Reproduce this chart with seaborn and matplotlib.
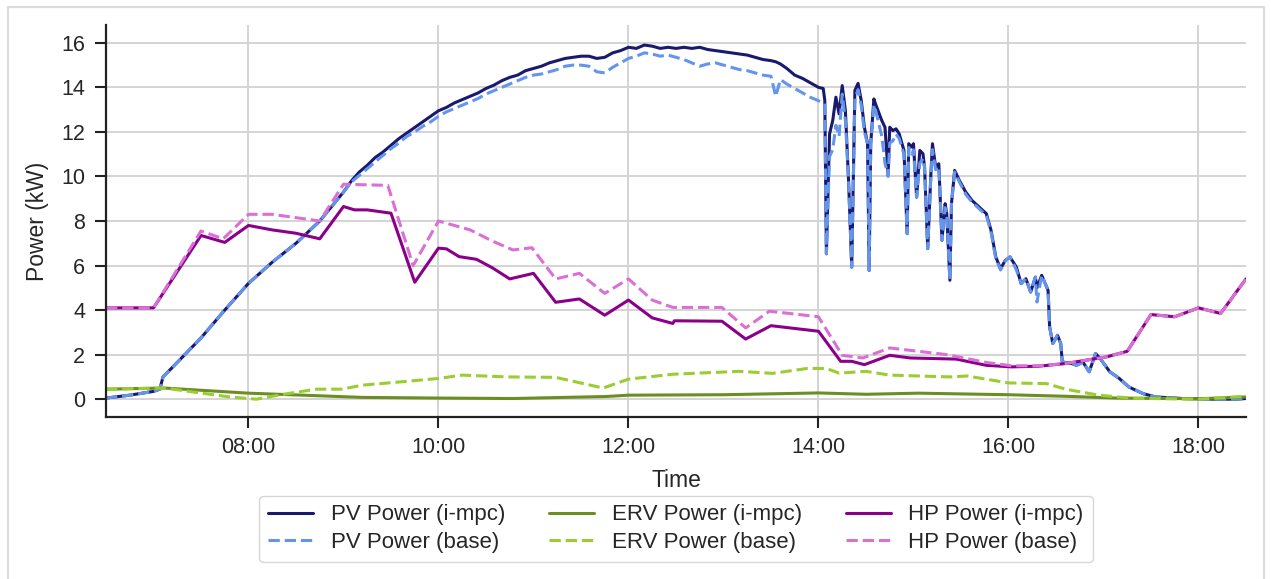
import matplotlib
matplotlib.use("Agg")
import matplotlib.pyplot as plt
import matplotlib.dates as mdates
from matplotlib.patches import Rectangle
import pandas as pd
import seaborn as sns

DAY = "2023-07-01 "

# PV generation (kW)
pv_times = [
    "06:30", "06:45", "07:00", "07:04", "07:06", "07:15", "07:30", "07:45",
    "08:00", "08:15", "08:30", "08:45", "09:00", "09:05", "09:10", "09:15",
    "09:20", "09:25", "09:30", "09:35", "09:40", "09:45", "09:50", "09:55",
    "10:00", "10:05", "10:10", "10:15", "10:20", "10:25", "10:30", "10:35",
    "10:40", "10:45", "10:50", "10:55", "11:00", "11:05", "11:10", "11:15",
    "11:20", "11:25", "11:30", "11:35", "11:40", "11:45", "11:50", "11:55",
    "12:00", "12:05", "12:10", "12:15", "12:20", "12:25", "12:30", "12:35",
    "12:40", "12:45", "12:50", "12:55", "13:00", "13:05", "13:10", "13:15",
    "13:20", "13:25", "13:30", "13:33", "13:36", "13:40", "13:45", "13:50",
    "13:55", "14:00", "14:03", "14:04", "14:05", "14:07", "14:09", "14:11",
    "14:13", "14:15", "14:17", "14:19", "14:21", "14:22", "14:23", "14:25",
    "14:27", "14:29", "14:31", "14:32", "14:33", "14:35", "14:36", "14:40",
    "14:42", "14:44", "14:45", "14:47", "14:49", "14:51", "14:54", "14:56",
    "14:57", "14:59", "15:00", "15:02", "15:04", "15:06", "15:07", "15:09",
    "15:11", "15:12", "15:14", "15:16", "15:18", "15:20", "15:21", "15:23",
    "15:24", "15:26", "15:29", "15:33", "15:37", "15:46", "15:49", "15:52",
    "15:55", "15:58", "16:01", "16:05", "16:08", "16:11", "16:14", "16:17",
    "16:18", "16:21", "16:25", "16:26", "16:28", "16:31", "16:33", "16:34",
    "16:40", "16:43", "16:47", "16:51", "16:55", "16:58", "17:04", "17:10",
    "17:16", "17:25", "17:33", "17:50", "18:10", "18:24", "18:30",
]
pv_impc = [
    0.05, 0.18, 0.35, 0.45, 1.00, 1.65, 2.75, 4.00,
    5.20, 6.15, 7.00, 8.00, 9.30, 9.80, 10.20, 10.50,
    10.85, 11.10, 11.40, 11.70, 11.95, 12.20, 12.45, 12.70,
    12.95, 13.10, 13.30, 13.45, 13.60, 13.75, 13.95, 14.10,
    14.30, 14.45, 14.55, 14.75, 14.85, 14.95, 15.10, 15.20,
    15.30, 15.35, 15.40, 15.40, 15.30, 15.35, 15.55, 15.65,
    15.80, 15.75, 15.90, 15.85, 15.75, 15.80, 15.75, 15.80,
    15.75, 15.80, 15.70, 15.65, 15.60, 15.55, 15.50, 15.45,
    15.35, 15.25, 15.20, 15.15, 15.05, 14.85, 14.55, 14.40,
    14.20, 14.00, 13.95, 13.41, 6.53, 11.91, 12.51, 13.56,
    12.81, 14.08, 12.96, 9.82, 5.93, 9.82, 13.86, 14.18,
    13.41, 12.21, 11.47, 5.78, 11.47, 13.48, 13.26, 12.51,
    12.21, 10.12, 12.21, 12.06, 12.14, 11.91, 11.17, 7.43,
    11.47, 11.32, 11.47, 9.07, 11.17, 11.02, 10.42, 6.76,
    10.12, 11.47, 10.42, 10.57, 7.13, 8.78, 8.33, 5.34,
    8.78, 10.27, 9.82, 9.30, 8.92, 8.33, 7.58, 6.38,
    5.86, 6.23, 6.38, 5.93, 5.19, 5.41, 4.81, 5.48,
    5.00, 5.56, 4.89, 3.24, 2.50, 2.87, 2.50, 1.67,
    1.60, 1.52, 1.67, 1.23, 2.05, 1.82, 1.23, 0.93,
    0.55, 0.25, 0.10, 0.03, 0.00, 0.00, 0.03,
]
pv_base = [
    0.05, 0.18, 0.35, 0.45, 1.00, 1.65, 2.75, 4.00,
    5.20, 6.15, 7.00, 8.00, 9.30, 9.75, 10.05, 10.35,
    10.65, 10.95, 11.25, 11.50, 11.80, 12.00, 12.25, 12.45,
    12.70, 12.90, 13.05, 13.20, 13.35, 13.50, 13.70, 13.85,
    14.00, 14.15, 14.30, 14.45, 14.55, 14.60, 14.70, 14.80,
    14.95, 15.00, 15.00, 14.95, 14.70, 14.65, 14.90, 15.10,
    15.30, 15.40, 15.55, 15.50, 15.40, 15.45, 15.35, 15.25,
    15.10, 14.95, 15.05, 15.10, 15.00, 14.90, 14.80, 14.75,
    14.65, 14.55, 14.50, 13.60, 14.35, 14.15, 13.95, 13.75,
    13.55, 13.40, 13.30, 13.20, 6.53, 10.90, 11.20, 12.30,
    11.80, 13.70, 12.50, 9.82, 5.93, 9.82, 13.50, 13.90,
    13.20, 12.00, 11.47, 5.78, 11.47, 13.20, 13.00, 11.80,
    10.60, 10.00, 11.50, 11.60, 11.90, 11.70, 11.00, 7.43,
    11.30, 11.00, 11.20, 9.07, 10.60, 10.80, 10.42, 6.76,
    10.00, 11.20, 10.30, 10.40, 7.13, 8.60, 8.33, 5.34,
    8.78, 10.20, 9.75, 9.20, 8.85, 8.25, 7.50, 6.30,
    5.80, 6.20, 6.40, 5.80, 5.19, 5.41, 4.81, 5.48,
    4.36, 5.56, 4.89, 3.24, 2.50, 2.87, 2.50, 1.67,
    1.60, 1.52, 1.67, 1.23, 2.05, 1.82, 1.23, 0.93,
    0.55, 0.25, 0.10, 0.03, 0.00, 0.00, 0.03,
]

# ERV consumption (kW)
erv_impc_times = ["06:30", "07:07", "08:00", "09:12", "10:00", "10:47", "11:46",
                  "12:00", "13:00", "14:00", "14:30", "15:03", "16:00", "16:36",
                  "17:08", "18:00", "18:30"]
erv_impc = [0.45, 0.50, 0.27, 0.08, 0.05, 0.03, 0.12,
            0.18, 0.20, 0.28, 0.22, 0.27, 0.20, 0.13,
            0.05, 0.02, 0.10]
erv_base_times = ["06:30", "07:07", "07:48", "08:05", "08:22", "08:43", "08:59",
                  "09:12", "09:35", "10:00", "10:15", "10:43", "11:14", "11:44",
                  "12:00", "12:28", "13:10", "13:31", "13:53", "14:05", "14:13",
                  "14:30", "14:45", "15:23", "15:34", "16:00", "16:24", "16:36",
                  "16:57", "17:18", "18:00", "18:30"]
erv_base = [0.45, 0.50, 0.10, 0.00, 0.22, 0.45, 0.45,
            0.63, 0.77, 0.93, 1.08, 1.00, 0.98, 0.50,
            0.90, 1.12, 1.25, 1.16, 1.38, 1.38, 1.17,
            1.25, 1.08, 1.00, 1.04, 0.73, 0.70, 0.45,
            0.18, 0.04, 0.00, 0.13]

# Heat pump consumption (kW)
hp_impc_times = ["06:30", "07:00", "07:30", "07:45", "08:00", "08:15", "08:30",
                 "08:45", "09:00", "09:07", "09:15", "09:30", "09:45", "10:00",
                 "10:05", "10:13", "10:24", "10:34", "10:45", "11:00", "11:14",
                 "11:29", "11:45", "12:00", "12:15", "12:28", "12:29", "12:59",
                 "13:14", "13:30", "14:00", "14:14", "14:21", "14:29", "14:45",
                 "14:58", "15:27", "15:46", "16:02", "16:19", "16:36", "16:49",
                 "17:02", "17:15", "17:30", "17:45", "18:00", "18:14", "18:30"]
hp_impc = [4.10, 4.10, 7.35, 7.04, 7.80, 7.60, 7.45,
           7.20, 8.65, 8.50, 8.50, 8.35, 5.25, 6.78,
           6.75, 6.40, 6.28, 5.90, 5.40, 5.65, 4.35,
           4.50, 3.77, 4.45, 3.65, 3.40, 3.52, 3.50,
           2.70, 3.30, 3.05, 1.70, 1.70, 1.55, 1.97,
           1.85, 1.80, 1.52, 1.45, 1.48, 1.60, 1.75,
           1.90, 2.15, 3.80, 3.70, 4.10, 3.85, 5.40]
hp_base_times = ["06:30", "07:00", "07:30", "07:44", "08:00", "08:15", "08:30",
                 "08:45", "09:00", "09:28", "09:44", "10:00", "10:20", "10:34",
                 "10:47", "10:59", "11:14", "11:29", "11:45", "12:00", "12:15",
                 "12:28", "12:59", "13:14", "13:29", "14:00", "14:15", "14:28",
                 "14:45", "15:21", "15:46", "16:02", "16:19", "16:36", "16:49",
                 "17:02", "17:15", "17:30", "17:45", "18:00", "18:14", "18:30"]
hp_base = [4.10, 4.10, 7.55, 7.20, 8.30, 8.30, 8.15,
           8.00, 9.65, 9.60, 6.00, 8.00, 7.60, 7.10,
           6.70, 6.80, 5.40, 5.65, 4.75, 5.40, 4.45,
           4.12, 4.12, 3.20, 3.95, 3.70, 1.97, 1.85,
           2.30, 2.00, 1.65, 1.50, 1.50, 1.60, 1.75,
           1.90, 2.15, 3.80, 3.70, 4.10, 3.85, 5.40]


def to_dt(times):
    return pd.to_datetime([DAY + t for t in times])


series = [
    ("PV Power (i-mpc)", pv_times, pv_impc, "#191970", "-"),
    ("PV Power (base)", pv_times, pv_base, "#6495ED", "--"),
    ("ERV Power (i-mpc)", erv_impc_times, erv_impc, "#6B8E23", "-"),
    ("ERV Power (base)", erv_base_times, erv_base, "#9ACD32", "--"),
    ("HP Power (i-mpc)", hp_impc_times, hp_impc, "#8B008B", "-"),
    ("HP Power (base)", hp_base_times, hp_base, "#DA70D6", "--"),
]

sns.set_theme(style="ticks", rc={
    "axes.grid": True,
    "grid.color": "#d4d4d4",
    "grid.linewidth": 1.4,
    "axes.edgecolor": "#222222",
    "axes.linewidth": 1.6,
    "xtick.major.size": 8,
    "ytick.major.size": 8,
    "xtick.major.width": 1.5,
    "ytick.major.width": 1.5,
    "xtick.major.pad": 6.5,
    "ytick.major.pad": 7,
})
plt.rcParams["font.family"] = ["Liberation Sans", "DejaVu Sans"]

fig = plt.figure(figsize=(12.71, 5.79), dpi=100)
ax = fig.add_axes([0.0834, 0.2798, 0.8969, 0.677])

for label, times, values, color, ls in series:
    sns.lineplot(x=to_dt(times), y=values, ax=ax, color=color, linestyle=ls,
                 linewidth=2.2, label=label, sort=False)

ax.set_xlim(pd.Timestamp(DAY + "06:30"), pd.Timestamp(DAY + "18:30"))
ax.set_ylim(-0.8, 16.8)
ax.set_yticks(range(0, 17, 2))
ax.xaxis.set_major_locator(mdates.HourLocator(byhour=range(8, 19, 2)))
ax.xaxis.set_major_formatter(mdates.DateFormatter("%H:%M"))
ax.tick_params(axis="both", labelsize=15.5, colors="#222222", labelcolor="#262626")
ax.set_xlabel("Time", fontsize=16.5, color="#262626", labelpad=8)
ax.set_ylabel("Power (kW)", fontsize=16.5, color="#262626", labelpad=9)
sns.despine(ax=ax)

ax.legend(loc="upper center", bbox_to_anchor=(0.5, -0.172), ncol=3,
          frameon=True, fontsize=16, edgecolor="#cccccc",
          columnspacing=2.0, handlelength=2.0, labelspacing=0.3)

# light frame around the figure
fig.patches.append(Rectangle((8 / 1271, -0.02), 1256 / 1271, 1.0 - 7 / 579 + 0.02,
                             transform=fig.transFigure, fill=False,
                             edgecolor="#dcdcdc", linewidth=1.6))

fig.savefig("out.png", dpi=100)
